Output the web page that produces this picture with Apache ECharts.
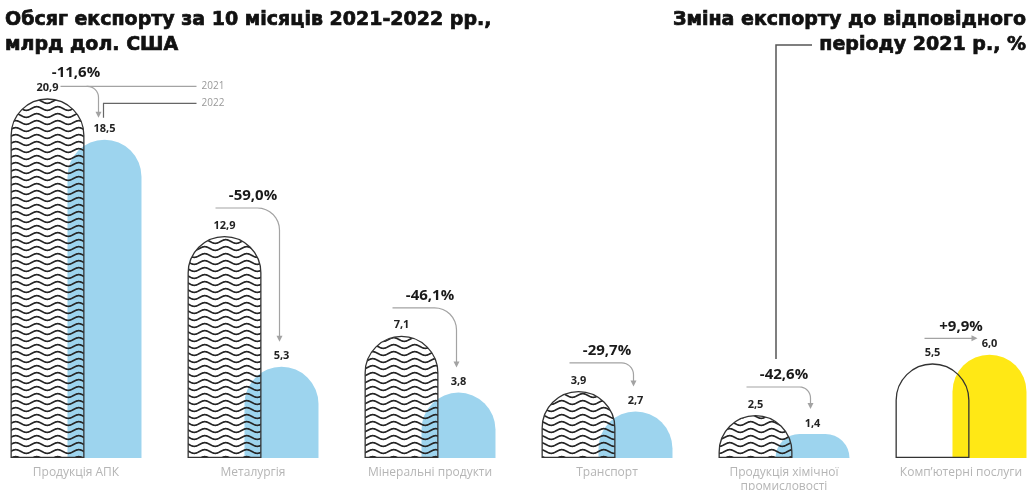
<!DOCTYPE html>
<html>
<head>
<meta charset="utf-8">
<script src="https://cdn.jsdelivr.net/npm/echarts@6/dist/echarts.min.js"></script>
<style>
  html, body { margin: 0; padding: 0; background: #fff; }
  #chart { width: 1032px; height: 490px; }
</style>
</head>
<body>
<div id="chart"></div>
<script>
// дані
const categories = ["Продукція АПК", "Металургія", "Мінеральні продукти", "Транспорт", "Продукція хімічної\nпромисловості", "Комп’ютерні послуги"];
const export2021 = [20.9, 12.9, 7.1, 3.9, 2.5, 5.5];
const export2022 = [18.5, 5.3, 3.8, 2.7, 1.4, 6.0];
const changePct = [-11.6, -59.0, -46.1, -29.7, -42.6, 9.9];
const highlightIndex = 5; // комп'ютерні послуги - жовтий стовпчик
const linkedIndex = 4;    // сюди веде лінія від правого заголовка

const BAR_W = 74;
const HALF_GAP = 28.5; // зсув центру стовпчика від центру категорії
const grey = "#a3a3a3";
const titleFont = { fontFamily: "DejaVu Sans", fontWeight: "bold", fontSize: 19, lineHeight: 25, stroke: "#111", lineWidth: 0.7 };

const fmt = v => v.toFixed(1).replace(".", ",");
const fmtPct = v => (v > 0 ? "+" : "") + v.toFixed(1).replace(".", ",") + "%";

// хвилястий візерунок для 2021
function wavePattern() {
  const c = document.createElement("canvas");
  c.width = 21;
  c.height = 7;
  const ctx = c.getContext("2d");
  ctx.strokeStyle = "#262626";
  ctx.lineWidth = 1.7;
  ctx.beginPath();
  for (let x = -1; x <= 22; x += 0.5) {
    const y = 3.5 + 1.8 * Math.sin((2 * Math.PI * x) / 21);
    if (x === -1) ctx.moveTo(x, y);
    else ctx.lineTo(x, y);
  }
  ctx.stroke();
  return c;
}

// горизонталь -> чверть кола -> вертикаль
function bendPoints(x0, y0, xc, yTip, r) {
  const pts = [[x0, y0], [xc - r, y0]];
  for (let k = 1; k <= 8; k++) {
    const a = (Math.PI / 2) * (k / 8);
    pts.push([xc - r + r * Math.sin(a), y0 + r - r * Math.cos(a)]);
  }
  pts.push([xc, yTip]);
  return pts;
}

function renderNotes(params, api) {
  const i = api.value(0);
  const cx = api.coord([i, 0])[0];
  const x21 = cx - HALF_GAP;
  const x22 = cx + HALF_GAP;
  const y21 = api.coord([i, api.value(1)])[1];
  const y22 = api.coord([i, api.value(2)])[1];
  const pct = api.value(3);
  const children = [];
  const lineStyle = { stroke: grey, lineWidth: 1.2, fill: null };
  let lineY, textY;

  if (pct > 0) {
    lineY = y21 - 25;
    textY = lineY - 12;
    const tipX = x22 - 12;
    children.push({ type: "polyline", shape: { points: [[x21 - 8, lineY], [tipX - 2, lineY]] }, style: lineStyle });
    children.push({ type: "polygon", shape: { points: [[tipX - 6, lineY - 3], [tipX - 6, lineY + 3], [tipX, lineY]] }, style: { fill: grey } });
  } else if (i === 0) {
    // перша категорія з легендою 2021 / 2022
    lineY = y21 - 12;
    textY = lineY - 14;
    const legX = x22 + 92;
    const tipY = y22 - 22;
    const tipX = x22 - 6;
    children.push({ type: "polyline", shape: { points: [[x21 + 13, lineY], [legX, lineY]] }, style: lineStyle });
    children.push({ type: "polyline", shape: { points: bendPoints(tipX - 12, lineY, tipX, tipY - 5, 11) }, style: lineStyle });
    children.push({ type: "polygon", shape: { points: [[tipX - 3, tipY - 6], [tipX + 3, tipY - 6], [tipX, tipY]] }, style: { fill: grey } });
    children.push({ type: "polyline", shape: { points: [[x22 - 1, tipY], [x22 - 1, lineY + 17], [legX, lineY + 17]] }, style: { stroke: "#666", lineWidth: 1.2, fill: null } });
    children.push({ type: "text", style: { text: "2021", x: legX + 5, y: lineY, align: "left", verticalAlign: "middle", fill: "#999", fontSize: 10, fontFamily: "Open Sans" } });
    children.push({ type: "text", style: { text: "2022", x: legX + 5, y: lineY + 17, align: "left", verticalAlign: "middle", fill: "#999", fontSize: 10, fontFamily: "Open Sans" } });
  } else {
    lineY = y21 - 28;
    textY = lineY - 12;
    const tipX = x22 - 2;
    const tipY = y22 - 25;
    const r = Math.min(22, (tipY - lineY) / 2);
    children.push({ type: "polyline", shape: { points: bendPoints(x21 - 9, lineY, tipX, tipY - 5, r) }, style: lineStyle });
    children.push({ type: "polygon", shape: { points: [[tipX - 3, tipY - 6], [tipX + 3, tipY - 6], [tipX, tipY]] }, style: { fill: grey } });
  }

  children.push({
    type: "text",
    style: { text: fmtPct(pct), x: cx, y: textY, align: "center", verticalAlign: "middle", fill: "#1a1a1a", fontSize: 15, fontWeight: "bold", fontFamily: "Open Sans" }
  });

  if (i === linkedIndex) {
    children.push({ type: "polyline", shape: { points: [[cx - 8, textY - 16], [cx - 8, 45], [812, 45]] }, style: { stroke: "#555", lineWidth: 1.5, fill: null } });
  }

  return { type: "group", children };
}

const chart = echarts.init(document.getElementById("chart"));

const option = {
  backgroundColor: "#fff",
  animation: false,
  graphic: [
    {
      type: "text",
      style: Object.assign({ text: "Обсяг експорту за 10 місяців 2021-2022 рр.,\nмлрд дол. США", x: 5, y: 8, align: "left", verticalAlign: "top", fill: "#111" }, titleFont)
    },
    {
      type: "text",
      style: Object.assign({ text: "Зміна експорту до відповідного\nперіоду 2021 р., %", x: 1026, y: 8, align: "right", verticalAlign: "top", fill: "#111" }, titleFont)
    }
  ],
  grid: { left: -12.5, width: 1062, top: 45, bottom: 32, containLabel: false, outerBoundsMode: "none" },
  xAxis: {
    type: "category",
    data: categories,
    axisLine: { show: false },
    axisTick: { show: false },
    axisLabel: { interval: 0, margin: 8, color: "#b5b5b5", fontSize: 12, lineHeight: 14, fontFamily: "Open Sans" }
  },
  yAxis: { type: "value", min: 0, max: 24, show: false, splitLine: { show: false } },
  series: [
    {
      name: "2021",
      type: "bar",
      barWidth: BAR_W,
      barGap: "-23%",
      z: 3,
      itemStyle: {
        color: { image: wavePattern(), repeat: "repeat" },
        borderColor: "#333",
        borderWidth: 1.3,
        borderRadius: [37, 37, 0, 0]
      },
      label: { show: true, position: "top", distance: 5, formatter: p => fmt(p.value), fontFamily: "Open Sans", fontWeight: "bold", fontSize: 11, color: "#222" },
      data: export2021.map((v, i) => (i === highlightIndex ? { value: v, itemStyle: { color: "rgba(0,0,0,0)" } } : v))
    },
    {
      name: "2022",
      type: "bar",
      barWidth: BAR_W,
      barGap: "-23%",
      z: 2,
      itemStyle: { color: "#9dd4ee", borderRadius: [37, 37, 0, 0] },
      label: { show: true, position: "top", distance: 5, formatter: p => fmt(p.value), fontFamily: "Open Sans", fontWeight: "bold", fontSize: 11, color: "#222" },
      data: export2022.map((v, i) => (i === highlightIndex ? { value: v, itemStyle: { color: "#ffe815" } } : v))
    },
    {
      type: "custom",
      silent: true,
      clip: false,
      z: 5,
      encode: { x: 0, y: 1 },
      renderItem: renderNotes,
      data: categories.map((c, i) => [i, export2021[i], export2022[i], changePct[i]])
    }
  ]
};

chart.setOption(option);
</script>
</body>
</html>
